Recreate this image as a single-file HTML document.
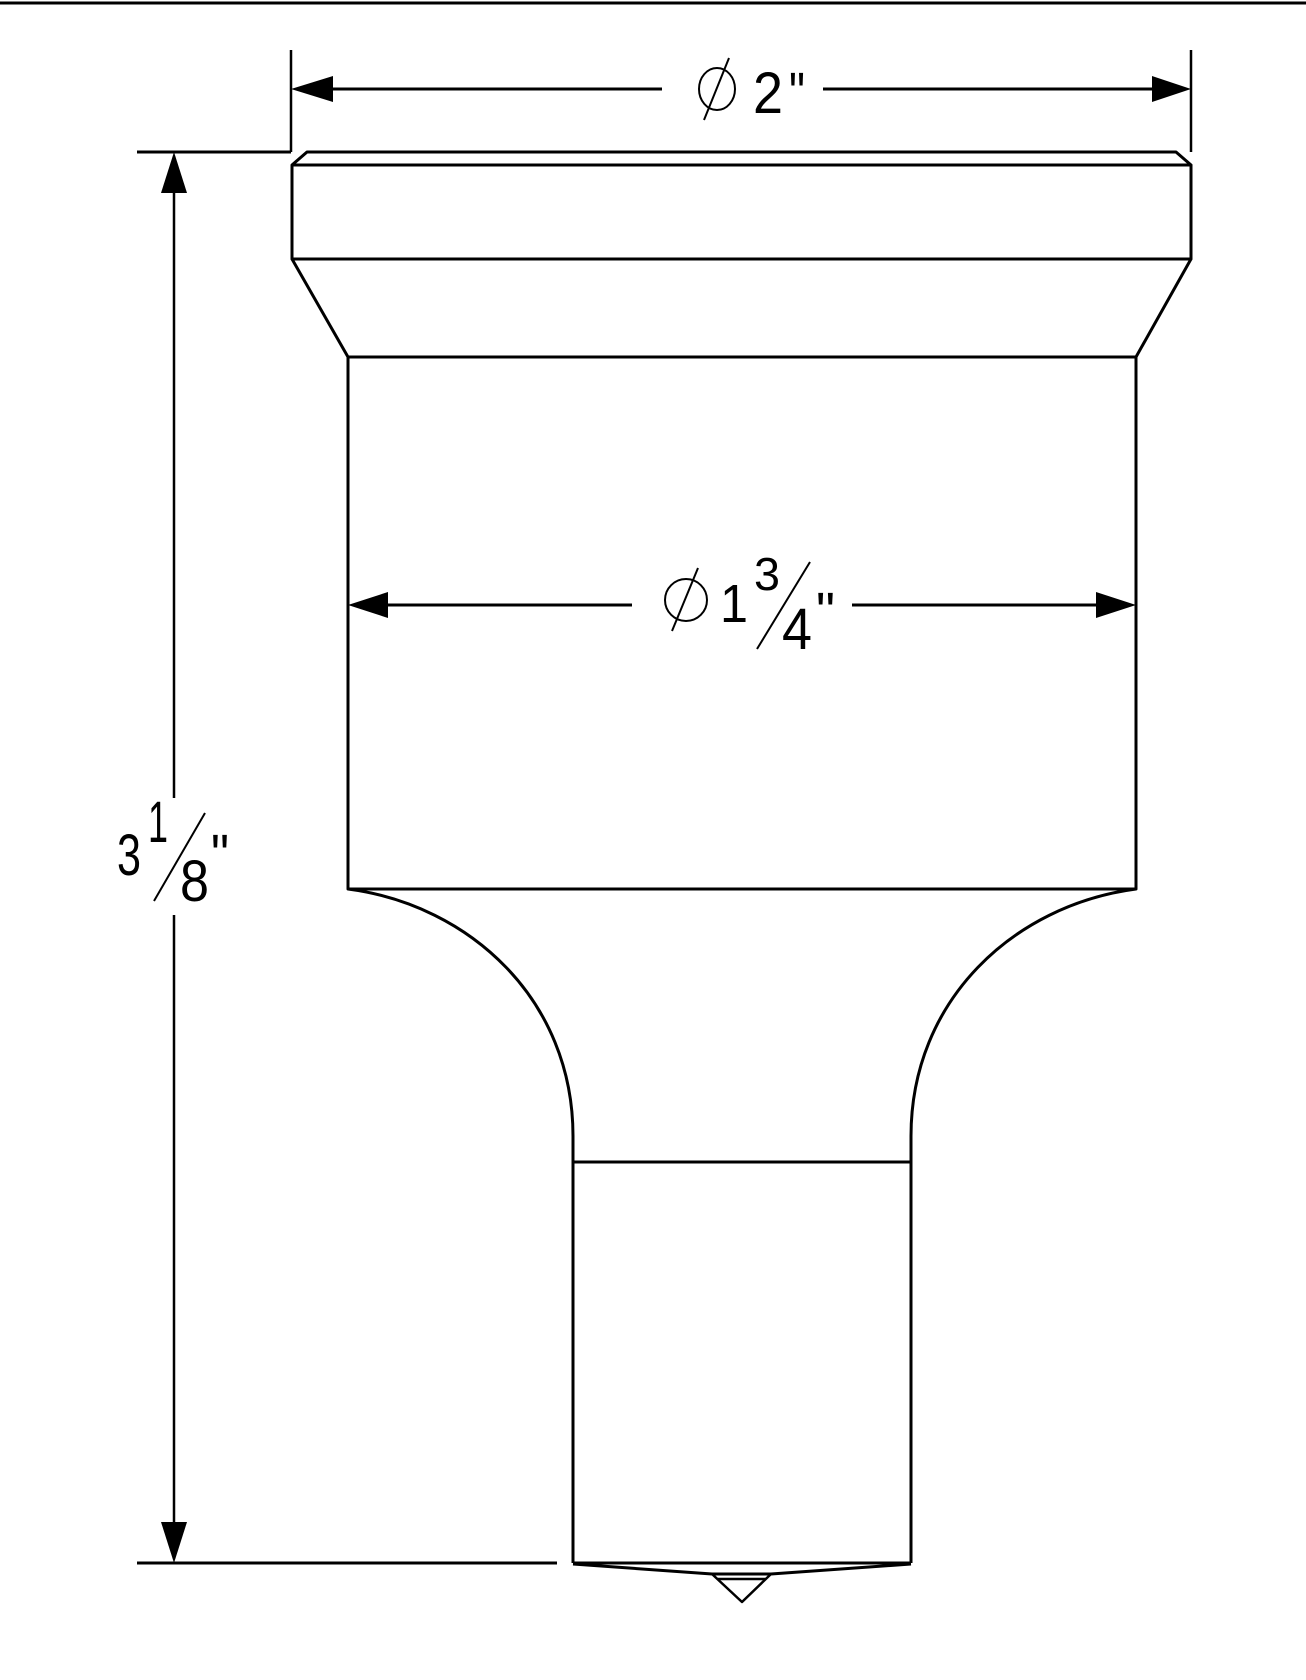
<!DOCTYPE html>
<html><head><meta charset="utf-8"><style>
html,body{margin:0;padding:0;background:#fff;}
svg{display:block;}
text{font-family:"Liberation Sans",sans-serif;fill:#000;}
</style></head><body>
<svg width="1306" height="1680" viewBox="0 0 1306 1680" xmlns="http://www.w3.org/2000/svg">
<line x1="0" y1="3" x2="1306" y2="3" stroke="#000" stroke-width="3"/>
<g stroke="#000" fill="none" stroke-width="3" stroke-linejoin="round">
<!-- part outline -->
<path d="M307,152 L1176,152 L1191,165 L292,165 Z"/>
<path d="M292,165 L292,259 L1191,259 L1191,165"/>
<path d="M292,259 L348,357 L1136,357 L1191,259"/>
<path d="M348,357 L348,889 L1136,889 L1136,357"/>
<path d="M348,889 C470,905 573,1000 573,1136 L573,1563"/>
<path d="M1136,889 C1014,905 911,1000 911,1136 L911,1563"/>
<line x1="573" y1="1162" x2="911" y2="1162"/>
<line x1="573" y1="1563" x2="911" y2="1563"/>
<path d="M573,1564 L712,1574 L771,1574 L911,1564"/>
<path d="M712,1574 L742,1602 L771,1574" stroke-width="2.5"/>
<line x1="718" y1="1579" x2="766" y2="1579" stroke-width="2.5"/>
</g>
<g stroke="#000" stroke-width="2.5" fill="none">
<!-- extension lines -->
<line x1="291" y1="50" x2="291" y2="152"/>
<line x1="1191" y1="50" x2="1191" y2="152"/>
<line x1="137" y1="152" x2="291" y2="152" stroke-width="3"/>
<line x1="137" y1="1563" x2="557" y2="1563" stroke-width="3"/>
<!-- top dim -->
<line x1="300" y1="89" x2="662" y2="89" stroke-width="3"/>
<line x1="823" y1="89" x2="1180" y2="89" stroke-width="3"/>
<!-- inner dim -->
<line x1="360" y1="605" x2="632" y2="605" stroke-width="3"/>
<line x1="852" y1="605" x2="1125" y2="605" stroke-width="3"/>
<!-- vertical dim -->
<line x1="174" y1="165" x2="174" y2="798"/>
<line x1="174" y1="915" x2="174" y2="1550"/>
</g>
<g fill="#000">
<polygon points="291,89 333,76 333,102"/>
<polygon points="1191,89 1152,76 1152,102"/>
<polygon points="348,605 388,592 388,618"/>
<polygon points="1136,605 1096,592 1096,618"/>
<polygon points="174,152 161,193 187,193"/>
<polygon points="174,1563 161,1522 187,1522"/>
</g>
<!-- top label -->
<g stroke="#000" fill="none" stroke-width="2">
<ellipse cx="717" cy="89" rx="18" ry="21"/>
<line x1="704" y1="120" x2="729" y2="58"/>
<ellipse cx="686" cy="600" rx="21" ry="21"/>
<line x1="672" y1="631" x2="698" y2="568"/>
<line x1="757" y1="649" x2="810" y2="562"/>
<line x1="154" y1="901" x2="205" y2="813"/>
</g>
<text x="753" y="113" font-size="58" textLength="30" lengthAdjust="spacingAndGlyphs">2</text>
<text x="789" y="113" font-size="58" textLength="16" lengthAdjust="spacingAndGlyphs">"</text>
<text x="720" y="622" font-size="54" textLength="28" lengthAdjust="spacingAndGlyphs">1</text>
<text x="754" y="590" font-size="46" textLength="26" lengthAdjust="spacingAndGlyphs">3</text>
<text x="782" y="649" font-size="58" textLength="30" lengthAdjust="spacingAndGlyphs">4</text>
<text x="816" y="630" font-size="54" textLength="19" lengthAdjust="spacingAndGlyphs">"</text>
<text x="117" y="875" font-size="58" textLength="24" lengthAdjust="spacingAndGlyphs">3</text>
<text x="148" y="842" font-size="58" textLength="20" lengthAdjust="spacingAndGlyphs">1</text>
<text x="180" y="901" font-size="58" textLength="29" lengthAdjust="spacingAndGlyphs">8</text>
<text x="211" y="875" font-size="58" textLength="18" lengthAdjust="spacingAndGlyphs">"</text>
</svg>
</body></html>
